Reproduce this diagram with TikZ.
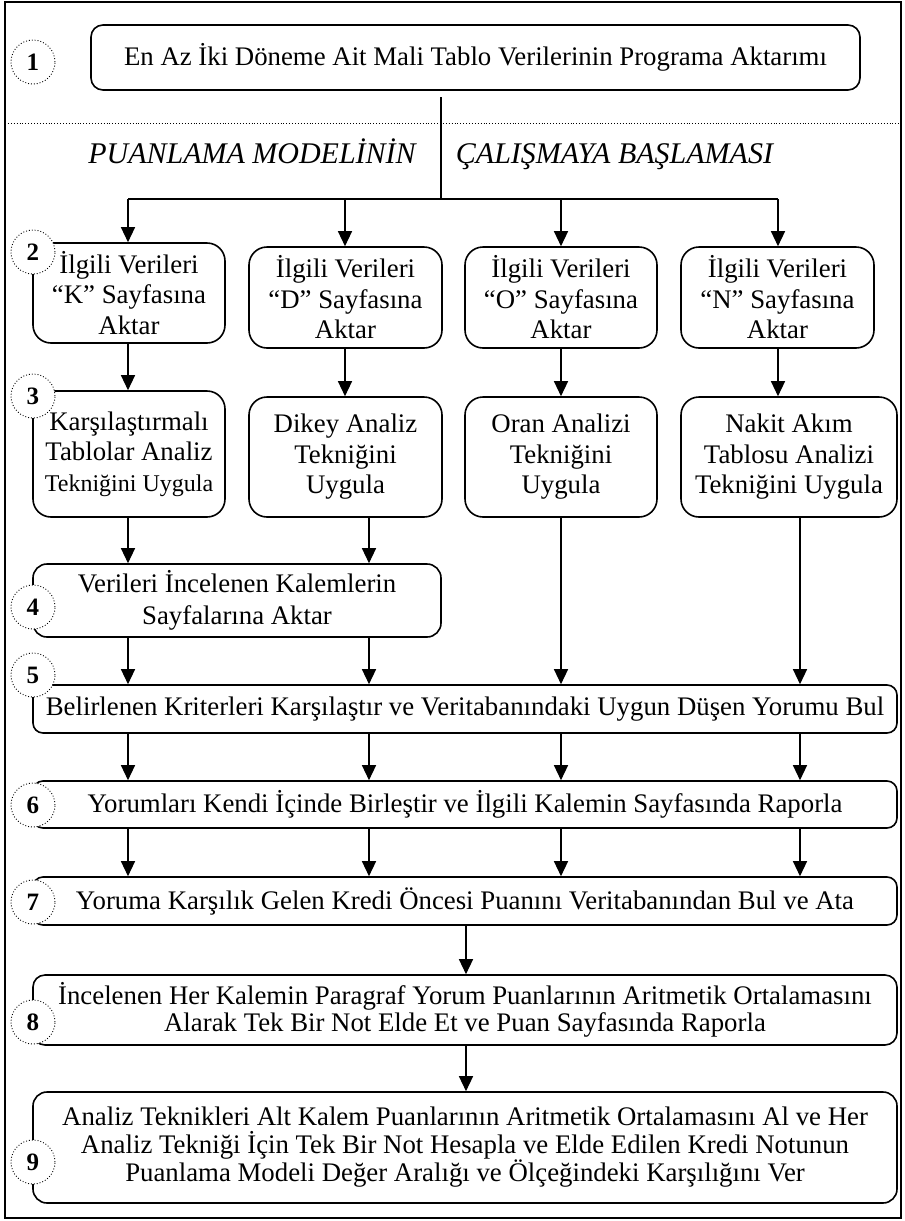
\documentclass[tikz,border=0pt]{standalone}
\usepackage{fontspec}
\setmainfont{Liberation Serif}
\usetikzlibrary{arrows.meta}
\begin{document}
\begin{tikzpicture}[x=1pt,y=-1pt,
  box/.style={draw, line width=1.6pt, rounded corners=#1, inner sep=0pt, align=center, font=\fontsize{26.8}{30.5}\selectfont},
  box/.default=18pt,
  arr/.style={line width=1.3pt, -{Triangle[length=15pt,width=14pt]}},
  ln/.style={line width=1.3pt},
  num/.style={circle, draw, dotted, line width=0.9pt, fill=white, minimum size=44pt, inner sep=0pt, font=\fontsize{25}{25}\bfseries\selectfont},
  head/.style={inner sep=0pt, anchor=base, font=\fontsize{30}{30}\itshape\selectfont}]
\useasboundingbox (0,0) rectangle (905,1221);
\draw[line width=1.3pt] (5,2) rectangle (901,1218);
\coordinate (dl) at (5,123);
\coordinate (dr) at (901,123);
\draw[dotted, line width=0.9pt] (dl) -- (dr);

% boxes
\node[box=12pt, minimum width=769pt, minimum height=65pt] (b1) at (475.5,57.5) {En Az İki Döneme Ait Mali Tablo Verilerinin Programa Aktarımı};

\node[head] (h1) at (252,163) {PUANLAMA MODELİNİN};
\node[head] (h2) at (614.5,163) {ÇALIŞMAYA BAŞLAMASI};

\node[box, minimum width=192pt, minimum height=100pt] (b2K) at (129,293) {İlgili Verileri\\“K” Sayfasına\\Aktar};
\node[box, minimum width=193pt, minimum height=101pt] (b2D) at (345.5,297.5) {İlgili Verileri\\“D” Sayfasına\\Aktar};
\node[box, minimum width=192pt, minimum height=101pt] (b2O) at (561,297.5) {İlgili Verileri\\“O” Sayfasına\\Aktar};
\node[box, minimum width=193pt, minimum height=101pt] (b2N) at (777.5,297.5) {İlgili Verileri\\“N” Sayfasına\\Aktar};

\node[box, minimum width=192pt, minimum height=126pt] (b3K) at (129,454) {Karşılaştırmalı\\Tablolar Analiz\\{\fontsize{24}{28}\selectfont Tekniğini Uygula}};
\node[box, minimum width=193pt, minimum height=120pt] (b3D) at (345.5,457) {Dikey Analiz\\Tekniğini\\Uygula};
\node[box, minimum width=192pt, minimum height=120pt] (b3O) at (561,457) {Oran Analizi\\Tekniğini\\Uygula};
\node[box, minimum width=216pt, minimum height=120pt] (b3N) at (789,457) {Nakit Akım\\Tablosu Analizi\\Tekniğini Uygula};

\node[box=14pt, minimum width=408pt, minimum height=73pt, font=\fontsize{26.8}{32}\selectfont] (b4) at (237,600.5) {Verileri İncelenen Kalemlerin\\Sayfalarına Aktar};

\node[box=10pt, minimum width=864pt, minimum height=48pt] (b5) at (465,709) {Belirlenen Kriterleri Karşılaştır ve Veritabanındaki Uygun Düşen Yorumu Bul};
\node[box=10pt, minimum width=864pt, minimum height=47pt] (b6) at (465,804.5) {Yorumları Kendi İçinde Birleştir ve İlgili Kalemin Sayfasında Raporla};
\node[box=10pt, minimum width=864pt, minimum height=48pt] (b7) at (465,901) {Yoruma Karşılık Gelen Kredi Öncesi Puanını Veritabanından Bul ve Ata};
\node[box=12pt, minimum width=864pt, minimum height=70pt, font=\fontsize{26.8}{27.5}\selectfont] (b8) at (465,1010) {İncelenen Her Kalemin Paragraf Yorum Puanlarının Aritmetik Ortalamasını\\Alarak Tek Bir Not Elde Et ve Puan Sayfasında Raporla};
\node[box=14pt, minimum width=864pt, minimum height=111pt, font=\fontsize{26.8}{28}\selectfont] (b9) at (465,1147.5) {Analiz Teknikleri Alt Kalem Puanlarının Aritmetik Ortalamasını Al ve Her\\Analiz Tekniği İçin Tek Bir Not Hesapla ve Elde Edilen Kredi Notunun\\Puanlama Modeli Değer Aralığı ve Ölçeğindeki Karşılığını Ver};

% connectors
\coordinate (v0) at (441,97);
\coordinate (hub) at (441,199);
\coordinate (bA) at (128,199);
\coordinate (bB) at (345,199);
\coordinate (bC) at (561,199);
\coordinate (bD) at (778,199);
\coordinate (xA) at (128,0);
\coordinate (xB) at (369,0);
\coordinate (xC) at (561,0);
\coordinate (xD) at (800,0);
\coordinate (xB2) at (345,0);
\coordinate (xD2) at (778,0);
\coordinate (xM) at (466,0);

\draw[ln] (v0) -- (hub);
\draw[ln] (bA) -- (bD);
\draw[arr] (bA) -- (bA |- b2K.north);
\draw[arr] (bB) -- (bB |- b2D.north);
\draw[arr] (bC) -- (bC |- b2O.north);
\draw[arr] (bD) -- (bD |- b2N.north);

\draw[arr] (b2K.south -| xA) -- (b3K.north -| xA);
\draw[arr] (b2D.south -| xB2) -- (b3D.north -| xB2);
\draw[arr] (b2O.south -| xC) -- (b3O.north -| xC);
\draw[arr] (b2N.south -| xD2) -- (b3N.north -| xD2);

\draw[arr] (b3K.south -| xA) -- (b4.north -| xA);
\draw[arr] (b3D.south -| xB) -- (b4.north -| xB);
\draw[arr] (b4.south -| xA) -- (b5.north -| xA);
\draw[arr] (b4.south -| xB) -- (b5.north -| xB);
\draw[arr] (b3O.south -| xC) -- (b5.north -| xC);
\draw[arr] (b3N.south -| xD) -- (b5.north -| xD);

\foreach \c in {xA,xB,xC,xD}{
  \draw[arr] (b5.south -| \c) -- (b6.north -| \c);
  \draw[arr] (b6.south -| \c) -- (b7.north -| \c);
}
\draw[arr] (b7.south -| xM) -- (b8.north -| xM);
\draw[arr] (b8.south -| xM) -- (b9.north -| xM);

% step numbers
\node[num] (n1) at (33,62) {1};
\node[num] (n2) at (33,252) {2};
\node[num] (n3) at (33,396) {3};
\node[num] (n4) at (33,607) {4};
\node[num] (n5) at (33,675) {5};
\node[num] (n6) at (33,805) {6};
\node[num] (n7) at (33,902) {7};
\node[num] (n8) at (33,1022) {8};
\node[num] (n9) at (33,1162) {9};
\end{tikzpicture}
\end{document}
